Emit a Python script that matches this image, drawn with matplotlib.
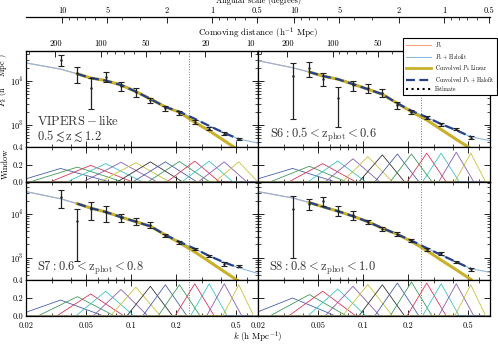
import numpy as np
import matplotlib
matplotlib.use("Agg")
import matplotlib.pyplot as plt
from matplotlib.ticker import FixedLocator, FuncFormatter, LogLocator, NullFormatter
from matplotlib.lines import Line2D

plt.rcParams['font.family'] = 'serif'
plt.rcParams['font.serif'] = ['cmr10', 'DejaVu Serif']
plt.rcParams['mathtext.fontset'] = 'cm'
plt.rcParams['axes.formatter.use_mathtext'] = True
plt.rcParams['axes.unicode_minus'] = False

# band centres of the estimates (h/Mpc)
k_bins = [0.034, 0.044, 0.054, 0.068, 0.086, 0.108, 0.135, 0.17, 0.211, 0.267, 0.333, 0.42, 0.525]
# grid the model curves are read on
k_model = [0.02, 0.034, 0.044, 0.054, 0.068, 0.086, 0.108, 0.135, 0.17, 0.211, 0.267, 0.333, 0.42, 0.525, 0.705]

# estimates and 1-sigma errors
pk_vipers = [3.05e4, 1.5e4, 7.0e3, 1.25e4, 7.6e3, 5.55e3, 3.7e3, 2.4e3, 1.9e3, 1.18e3, 830, 630, 480]
err_vipers = [8.5e3, 6.0e3, 4.7e3, 3.2e3, 1.7e3, 1.2e3, 500, 330, 180, 110, 60, 45, 35]
pk_s6 = [1.32e4, 1.98e4, 1.13e4, 4.15e3, 8.0e3, 6.95e3, 5.4e3, 2.8e3, 2.0e3, 1.47e3, 1.05e3, 800, 515]
err_s6 = [1.18e4, 7.8e3, 3.5e3, 3.25e3, 2.0e3, 1.55e3, 1.05e3, 500, 200, 130, 80, 50, 40]
pk_s7 = [2.4e4, 6.9e3, 1.29e4, 1.07e4, 8.1e3, 6.75e3, 5.65e3, 3.2e3, 2.25e3, 1.58e3, 1.1e3, 720, 650]
err_s7 = [1.08e4, 6.05e3, 5.6e3, 4.1e3, 1.65e3, 1.15e3, 950, 300, 200, 120, 80, 60, 40]
pk_s8 = [1.3e4, 1.7e4, 1.95e4, 1.17e4, 9.3e3, 6.6e3, 4.5e3, 3.5e3, 2.5e3, 1.55e3, 1.26e3, 810, 550]
err_s8 = [1.2e4, 5.0e3, 4.5e3, 3.0e3, 2.0e3, 600, 500, 300, 200, 100, 120, 50, 40]

# model spectra: linear and halofit
halofit_vipers = [2.57e4, 1.86e4, 1.45e4, 1.17e4, 1.02e4, 8.1e3, 5.75e3, 3.9e3, 2.57e3, 2.0e3, 1.38e3, 955, 660, 479, 389]
linear_vipers = [2.57e4, 1.86e4, 1.45e4, 1.17e4, 1.02e4, 8.1e3, 5.75e3, 3.9e3, 2.57e3, 1.95e3, 1.15e3, 740, 440, 265, 150]
halofit_s6 = [2.9e4, 2.0e4, 1.6e4, 1.3e4, 1.1e4, 8.5e3, 6.5e3, 5.0e3, 3.1e3, 2.1e3, 1.5e3, 1.05e3, 760, 540, 440]
linear_s6 = [2.9e4, 2.0e4, 1.6e4, 1.3e4, 1.1e4, 8.5e3, 6.5e3, 5.0e3, 3.1e3, 2.0e3, 1.3e3, 790, 470, 290, 150]
halofit_s7 = [3.2e4, 2.2e4, 1.7e4, 1.35e4, 1.1e4, 8.4e3, 6.6e3, 5.2e3, 3.3e3, 2.3e3, 1.6e3, 1.1e3, 780, 590, 435]
linear_s7 = [3.2e4, 2.2e4, 1.7e4, 1.35e4, 1.1e4, 8.4e3, 6.6e3, 5.2e3, 3.3e3, 2.2e3, 1.35e3, 820, 480, 290, 150]
halofit_s8 = [3.2e4, 2.3e4, 1.8e4, 1.45e4, 1.15e4, 8.8e3, 6.6e3, 4.7e3, 3.4e3, 2.45e3, 1.65e3, 1.15e3, 800, 560, 465]
linear_s8 = [3.2e4, 2.3e4, 1.8e4, 1.45e4, 1.15e4, 8.8e3, 6.6e3, 4.7e3, 3.4e3, 2.35e3, 1.45e3, 880, 530, 320, 165]

# window functions: peak height, left foot and right foot of each band
win_h_vipers = [0.155, 0.17, 0.19, 0.21, 0.225, 0.22, 0.23, 0.23, 0.234, 0.238, 0.238, 0.23, 0.23]
win_h_s6 = [0.155, 0.18, 0.21, 0.24, 0.265, 0.29, 0.31, 0.32, 0.32, 0.33, 0.33, 0.34, 0.33]
win_h_s7 = [0.177, 0.215, 0.245, 0.275, 0.295, 0.32, 0.33, 0.347, 0.347, 0.358, 0.358, 0.358, 0.347]
win_h_s8 = [0.2, 0.238, 0.275, 0.30, 0.33, 0.35, 0.347, 0.366, 0.377, 0.366, 0.358, 0.358, 0.347]
win_lo_wide = [0.017, 0.0212, 0.0289, 0.0375, 0.048, 0.062, 0.081, 0.103, 0.1295, 0.1736, 0.2185, 0.281, 0.363]
win_hi_wide = [0.0727, 0.0888, 0.103, 0.120, 0.150, 0.182, 0.222, 0.277, 0.337, 0.391, 0.48, 0.594, 0.705]
win_lo_narrow = [0.017, 0.024, 0.032, 0.043, 0.056, 0.073, 0.094, 0.12, 0.152, 0.197, 0.25, 0.32, 0.41]
win_hi_narrow = [0.066, 0.078, 0.09, 0.105, 0.13, 0.158, 0.19, 0.237, 0.29, 0.36, 0.44, 0.55, 0.66]

k_cut = 0.244
labels = [r'$\mathrm{VIPERS-like}$' + '\n' + r'$0.5\lesssim \mathrm{z}\lesssim 1.2$',
          r'$\mathrm{S6:0.5<z_{phot}<0.6}$',
          r'$\mathrm{S7:0.6<z_{phot}<0.8}$',
          r'$\mathrm{S8:0.8<z_{phot}<1.0}$']

win_colors = ['#4a5fae', '#3f9a5a', '#d8365a', '#3cc4c4', '#8c5db4', '#c9c23c', '#333333']

W, H = 498, 345
fig = plt.figure(figsize=(W / 100, H / 100), dpi=100)


def px_axes(x0, y0, x1, y1):
    return fig.add_axes([x0 / W, 1 - y1 / H, (x1 - x0) / W, (y1 - y0) / H])


def k_to_theta(k):
    k = np.asarray(k, dtype=float)
    return 0.348 / np.where(k == 0, 1e-9, k)


def k_to_dist(k):
    k = np.asarray(k, dtype=float)
    return 2 * np.pi / np.where(k == 0, 1e-9, k)


def fmt_g(v, pos):
    return '%g' % v


def style_top(sec, ticks, pad=2):
    sec.xaxis.set_major_locator(FixedLocator(ticks))
    sec.xaxis.set_major_formatter(FuncFormatter(fmt_g))
    sec.xaxis.set_minor_locator(LogLocator(subs=np.arange(1, 10)))
    sec.xaxis.set_minor_formatter(NullFormatter())
    sec.tick_params(which='both', direction='in', labelsize=6, pad=pad)
    sec.tick_params(which='major', length=4, width=0.6)
    sec.tick_params(which='minor', length=2, width=0.5)


cols = [(26, 258), (258, 490)]
rows = [((51, 147), (147, 182)), ((182, 280), (280, 316))]
panels = [
    (pk_vipers, err_vipers, halofit_vipers, linear_vipers, win_h_vipers, win_lo_wide, win_hi_wide),
    (pk_s6, err_s6, halofit_s6, linear_s6, win_h_s6, win_lo_narrow, win_hi_narrow),
    (pk_s7, err_s7, halofit_s7, linear_s7, win_h_s7, win_lo_narrow, win_hi_narrow),
    (pk_s8, err_s8, halofit_s8, linear_s8, win_h_s8, win_lo_narrow, win_hi_narrow),
]
text_pos = [(37, 129), (270, 135), (37, 268), (269, 268)]

xlim = (0.02, 0.705)
for i, (pk, err, hf, lin, wh, wlo, whi) in enumerate(panels):
    r, c = divmod(i, 2)
    x0, x1 = cols[c]
    (py0, py1), (wy0, wy1) = rows[r]
    ax = px_axes(x0, py0, x1, py1)
    axw = px_axes(x0, wy0, x1, wy1)

    ax.plot(k_model, lin, color='#f4a582', lw=0.8)
    ax.plot(k_model, hf, color='#8fb8de', lw=0.8)
    ax.plot(k_model[2:14], lin[2:14], color='#c8b02a', lw=2.2)
    ax.plot(k_model[2:14], hf[2:14], color='#26408b', lw=1.6, dashes=(4, 2))
    ax.errorbar(k_bins, pk, yerr=err, fmt='.', ms=1.5, color='#222222',
                elinewidth=0.9, capsize=2, capthick=0.8, zorder=5)
    ax.axvline(k_cut, color='#777777', ls=':', lw=0.7)
    ax.set_yscale('log')
    ax.set_ylim(316 if r == 0 else 310, 4.8e4 if r == 0 else 5.3e4)

    for j in range(len(k_bins)):
        axw.plot([xlim[0], wlo[j], k_bins[j], whi[j], xlim[1]], [0, 0, wh[j], 0, 0],
                 color=win_colors[j % 7], lw=0.6)
    axw.axvline(k_cut, color='#777777', ls=':', lw=0.7)
    axw.set_ylim(0, 0.4)
    axw.set_yticks([0.0, 0.2, 0.4])
    axw.yaxis.set_major_formatter(FuncFormatter(lambda v, p: '%.1f' % v))

    for a in (ax, axw):
        a.set_xscale('log')
        a.set_xlim(*xlim)
        a.xaxis.set_major_locator(FixedLocator([0.02, 0.05, 0.1, 0.2, 0.5]))
        a.xaxis.set_minor_locator(LogLocator(subs=np.arange(1, 10)))
        a.xaxis.set_major_formatter(FuncFormatter(fmt_g))
        a.xaxis.set_minor_formatter(NullFormatter())
        a.tick_params(which='both', direction='in', top=True, right=True,
                      labelsize=6, pad=2)
        a.tick_params(axis='x', pad=4)
        a.tick_params(which='major', length=4, width=0.6)
        a.tick_params(which='minor', length=2, width=0.5)
        for s in a.spines.values():
            s.set_linewidth(0.9)
        if c == 1:
            a.tick_params(labelleft=False)
    ax.tick_params(labelbottom=False)
    if r == 0:
        axw.tick_params(labelbottom=False)
        ax.tick_params(top=False, which='both')
        dist = ax.secondary_xaxis('top', functions=(k_to_dist, k_to_dist))
        # on the right the legend sits over the small-scale labels
        style_top(dist, [200, 100, 50, 20, 10] if c == 0 else [200, 100, 50])
        ang = ax.secondary_xaxis(1 + 34 / 96, functions=(k_to_theta, k_to_theta))
        style_top(ang, [10, 5, 2, 1, 0.5], pad=1.5)
        ang.spines['top'].set_linewidth(0.9)

    tx, ty = text_pos[i]
    fig.text(tx / W, 1 - ty / H, labels[i], fontsize=9, color='#333333',
             va='center', ha='left', linespacing=1.1)

# the top title sits mostly beyond the canvas edge, as in the source figure
fig.text(258 / W, 1 - 0.5 / H, 'Angular scale (degrees)', fontsize=6, ha='center', va='center')
fig.text(258 / W, 1 - 33 / H, r'Comoving distance ($\mathrm{h^{-1}\ Mpc}$)', fontsize=6.5,
         ha='center', va='center')
fig.text(258 / W, 1 - 337 / H, r'$k\ (\mathrm{h\ Mpc^{-1}})$', fontsize=6.5, ha='center', va='center')
fig.text(3 / W, 1 - 80 / H, r'$P_k\ (\mathrm{h^{-3}\ Mpc^3})$', fontsize=6, rotation=90,
         ha='center', va='center')
fig.text(6 / W, 1 - 164 / H, 'Window', fontsize=6, rotation=90, ha='center', va='center')

handles = [Line2D([], [], color='#f4a582', lw=0.8),
           Line2D([], [], color='#8fb8de', lw=0.8),
           Line2D([], [], color='#c8b02a', lw=2.0),
           Line2D([], [], color='#26408b', lw=1.6, dashes=(4, 2)),
           Line2D([], [], color='k', lw=1.5, ls=':')]
names = [r'$P_k$', r'$P_k$ + Halofit', r'Convolved $P_k$ Linear',
         r'Convolved $P_k$ + Halofit', 'Estimate']
leg = fig.legend(handles, names, loc='upper right', bbox_to_anchor=(497 / W, 1 - 38 / H),
                 fontsize=4, frameon=True, fancybox=False, framealpha=1,
                 edgecolor='k', handlelength=4.5, borderpad=0.4, labelspacing=0.3,
                 handletextpad=0.8, borderaxespad=0)
leg.get_frame().set_linewidth(0.8)

fig.savefig('out.png', dpi=100)
